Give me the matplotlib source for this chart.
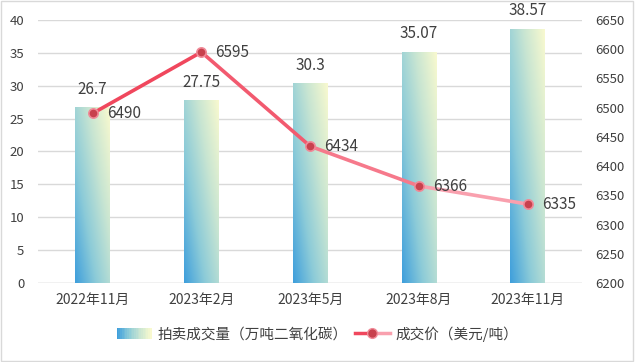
import numpy as np
import matplotlib
matplotlib.use('Agg')
import matplotlib.pyplot as plt
from matplotlib.collections import LineCollection
from matplotlib.colors import LinearSegmentedColormap
from matplotlib.patches import Rectangle
from matplotlib.lines import Line2D
from matplotlib.legend_handler import HandlerBase

plt.rcParams['font.family'] = ['Noto Sans CJK SC', 'DejaVu Sans']

# 数据
months = ['2022年11月', '2023年2月', '2023年5月', '2023年8月', '2023年11月']
volume = [26.7, 27.75, 30.3, 35.07, 38.57]          # 万吨二氧化碳
price = [6490, 6595, 6434, 6366, 6335]              # 美元/吨
vol_ticks = [0, 5, 10, 15, 20, 25, 30, 35, 40]
price_ticks = [6200, 6250, 6300, 6350, 6400, 6450, 6500, 6550, 6600, 6650]

txt = '#404040'
bar_cmap = LinearSegmentedColormap.from_list(
    'bar', ['#3f9fdc', '#8ccbd8', '#c8e5d2', '#f8f9cf'])
seg_colors = ['#f0475d', '#f25a6f', '#f6798b', '#f9a0ae']


def grad_img(n=64):
    u = np.linspace(0, 1, n)
    uu, vv = np.meshgrid(u, u)
    t = np.clip(0.55 * uu + 0.45 * vv, 0, 1)
    return bar_cmap(t)


class GradBarHandler(HandlerBase):
    def create_artists(self, legend, orig, xd, yd, w, h, fs, trans):
        arts = []
        n = 20
        for i in range(n):
            r = Rectangle((xd + w * i / n, yd), w / n + 0.3, h,
                          facecolor=bar_cmap(i / (n - 1)), edgecolor='none',
                          transform=trans)
            arts.append(r)
        return arts


class GradLineHandler(HandlerBase):
    def create_artists(self, legend, orig, xd, yd, w, h, fs, trans):
        y = yd + h / 2
        l1 = Line2D([xd, xd + w / 2], [y, y], color='#f0475d', lw=2.5, transform=trans)
        l2 = Line2D([xd + w / 2, xd + w], [y, y], color='#f9a0ae', lw=2.5, transform=trans)
        m = Line2D([xd + w / 2], [y], marker='o', ms=7, color='none',
                   markerfacecolor='#c8414d', markeredgecolor='#f08a98',
                   markeredgewidth=1, transform=trans)
        return [l1, l2, m]


fig = plt.figure(figsize=(6.35, 3.62), dpi=100)
fig.patches.append(Rectangle((0.002, 0.003), 0.995, 0.993, transform=fig.transFigure,
                             fill=False, edgecolor='#d9d9d9', lw=1))
ax = fig.add_axes([0.06, 0.218, 0.857, 0.727])
ax2 = ax.twinx()

x = np.arange(len(months))
bw = 0.32
img = grad_img()
for xi, v in zip(x, volume):
    ax.imshow(img, extent=[xi - bw / 2, xi + bw / 2, 0, v], origin='lower',
              aspect='auto', zorder=2, interpolation='bilinear')
    ax.text(xi, v + 1.5, f'{v:g}', ha='center', va='bottom', fontsize=11,
            color=txt)

ax.set_xlim(-0.5, len(months) - 0.5)
ax.set_ylim(0, 40)
ax.set_yticks(vol_ticks)
ax.set_xticks(x)
ax.set_xticklabels(months)
ax.grid(axis='y', color='#d9d9d9', lw=1, zorder=0)
ax.set_axisbelow(True)
for s in ['top', 'right', 'left', 'bottom']:
    ax.spines[s].set_visible(False)
    ax2.spines[s].set_visible(False)
ax.axhline(0, color='#d9d9d9', lw=1, zorder=1)
ax.tick_params(axis='both', length=0, labelsize=9.5, colors=txt)
ax.tick_params(axis='x', pad=7, labelsize=10)
ax.tick_params(axis='y', pad=10)

pts = np.column_stack([x, price])
segs = [pts[i:i + 2] for i in range(len(pts) - 1)]
lc = LineCollection(segs, colors=seg_colors, linewidths=2.6, capstyle='round', zorder=3)
ax2.add_collection(lc)
ax2.scatter(x, price, s=45, facecolor='#c8414d', edgecolor='#f08a98', linewidth=1.2, zorder=4)
for xi, p in zip(x, price):
    ax2.text(xi + 0.13, p, f'{p}', ha='left', va='center', fontsize=11,
             color=txt)
ax2.set_ylim(6200, 6650)
ax2.set_yticks(price_ticks)
ax2.tick_params(axis='y', length=0, labelsize=9.5, colors=txt, pad=9)

h_bar = Rectangle((0, 0), 1, 1)
h_line = Line2D([], [])
fig.legend([h_bar, h_line], ['拍卖成交量（万吨二氧化碳）', '成交价（美元/吨）'],
           handler_map={h_bar: GradBarHandler(), h_line: GradLineHandler()},
           loc='center', bbox_to_anchor=(0.5, 0.078), ncol=2, frameon=False,
           fontsize=10.5, handlelength=2.4, handletextpad=0.4, columnspacing=0.5,
           labelcolor=txt)

fig.savefig('out.png', dpi=100)
